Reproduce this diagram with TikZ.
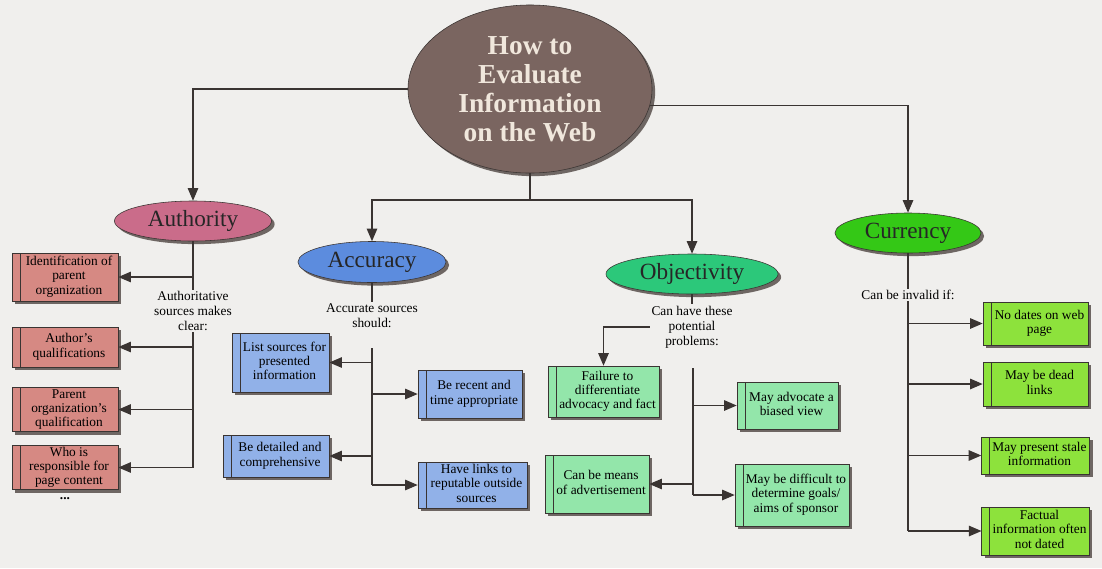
\documentclass[tikz,border=0pt]{standalone}
\usepackage{fontspec}
\setmainfont{Liberation Serif}
\usetikzlibrary{arrows.meta,shapes.geometric,shadows}
\definecolor{pagebg}{RGB}{240,239,237}
\definecolor{linecol}{RGB}{58,52,50}
\definecolor{shadowcol}{RGB}{96,88,84}
\definecolor{rootfill}{RGB}{122,101,96}
\definecolor{roottext}{RGB}{240,231,220}
\definecolor{authfill}{RGB}{202,108,138}
\definecolor{authbox}{RGB}{214,137,131}
\definecolor{accfill}{RGB}{92,140,222}
\definecolor{accbox}{RGB}{145,177,232}
\definecolor{objfill}{RGB}{44,200,122}
\definecolor{objbox}{RGB}{147,230,170}
\definecolor{curfill}{RGB}{52,200,22}
\definecolor{curbox}{RGB}{141,226,60}
\newcommand{\leaftext}[1]{\renewcommand{\arraystretch}{0.94}\hspace*{0.2cm}\begin{tabular}{@{}c@{}}#1\end{tabular}}
\tikzset{
  dropped/.style={drop shadow={shadow xshift=2.2pt,shadow yshift=-2.2pt,fill=shadowcol,opacity=0.9}},
  topic/.style={ellipse,draw=linecol,dropped,inner sep=0pt,text=black!85,font=\fontsize{16.5}{18}\selectfont},
  leaf/.style={rectangle,draw=linecol,dropped,inner xsep=2pt,inner ysep=0.5pt,
    font=\fontsize{9.5}{10.8}\selectfont,
    path picture={\draw[linecol] ([xshift=0.2cm]path picture bounding box.north west)
      -- ([xshift=0.2cm]path picture bounding box.south west);}},
  note/.style={fill=pagebg,align=center,inner sep=1pt,font=\fontsize{9.5}{10.8}\selectfont},
  link/.style={draw=linecol,line width=0.8pt},
  pointer/.style={link,-{Triangle[length=9pt,width=7.5pt]}},
}
\begin{document}
\begin{tikzpicture}[x=0.025cm,y=-0.025cm]
\path[use as bounding box,fill=pagebg] (0,0) rectangle (1102,568);

\node[ellipse,draw=linecol,dropped,fill=rootfill,text=roottext,minimum width=6.1cm,minimum height=4.2cm,
  inner sep=0pt,align=center,font=\bfseries\fontsize{19.5}{20.5}\selectfont] (root) at (530,89)
  {How to\\Evaluate\\Information\\on the Web};

\node[topic,fill=authfill,minimum width=3.925cm,minimum height=1cm] (authority) at (193,221) {Authority};
\node[topic,fill=accfill,minimum width=3.7cm,minimum height=1.025cm] (accuracy) at (372,262) {Accuracy};
\node[topic,fill=objfill,minimum width=4.3cm,minimum height=1cm] (objectivity) at (692,274) {Objectivity};
\node[topic,fill=curfill,minimum width=3.65cm,minimum height=1cm] (currency) at (908,233) {Currency};

\coordinate (split) at (530,200);
\draw[pointer] (root.west) -| (authority.north);
\draw[pointer] (root.-8) -| (currency.north);
\draw[link] (root.south) -- (split);
\draw[pointer] (split) -| (accuracy.north);
\draw[pointer] (split) -| (objectivity.north);

% Authority
\node[leaf,fill=authbox,minimum width=2.65cm,minimum height=1.2cm] (a1) at (65,277) {\leaftext{Identification of\\parent\\organization}};
\node[leaf,fill=authbox,minimum width=2.65cm,minimum height=1cm] (a2) at (65,347) {\leaftext{Author's\\qualifications}};
\node[leaf,fill=authbox,minimum width=2.65cm,minimum height=1.075cm] (a3) at (65,409.5) {\leaftext{Parent\\organization's\\qualification}};
\node[leaf,fill=authbox,minimum width=2.65cm,minimum height=1.075cm] (a4) at (65,467.5) {\leaftext{Who is\\responsible for\\page content}};
\node[font=\bfseries\fontsize{9.5}{10.8}\selectfont,inner sep=0pt] (adots) at (65,499) {...};
\draw[link] (authority.south) -- (authority.south |- a4.east);
\foreach \b in {a1,a2,a3,a4}
  \draw[pointer] (authority.south |- \b.east) -- (\b.east);
\node[note] (authnote) at (193,311) {Authoritative\\sources makes\\clear:};

% Accuracy
\node[note] (accnote) at (372,316) {Accurate sources\\should:};
\node[leaf,fill=accbox,minimum width=2.425cm,minimum height=1.475cm] (b1) at (280.5,362.5) {\leaftext{List sources for\\presented\\information}};
\node[leaf,fill=accbox,minimum width=2.6cm,minimum height=1.2cm] (b2) at (470,394) {\leaftext{Be recent and\\time appropriate}};
\node[leaf,fill=accbox,minimum width=2.65cm,minimum height=1.05cm] (b3) at (276,456) {\leaftext{Be detailed and\\comprehensive}};
\node[leaf,fill=accbox,minimum width=2.725cm,minimum height=1.15cm] (b4) at (472.5,485) {\leaftext{Have links to\\reputable outside\\sources}};
\coordinate (acctop) at (372,348);
\draw[link] (accuracy.south) -- (accnote.north);
\draw[link] (acctop) -- (acctop |- b4.west);
\foreach \b in {b1,b3}
  \draw[pointer] (acctop |- \b.east) -- (\b.east);
\foreach \b in {b2,b4}
  \draw[pointer] (acctop |- \b.west) -- (\b.west);

% Objectivity
\node[note] (objnote) at (692,327) {Can have these\\potential\\problems:};
\node[leaf,fill=objbox,minimum width=2.775cm,minimum height=1.275cm] (o1) at (603.5,391.5) {\leaftext{Failure to\\differentiate\\advocacy and fact}};
\node[leaf,fill=objbox,minimum width=2.525cm,minimum height=1.175cm] (o2) at (787.5,405.5) {\leaftext{May advocate a\\biased view}};
\node[leaf,fill=objbox,minimum width=2.6cm,minimum height=1.45cm] (o3) at (597,484) {\leaftext{Can be means\\of advertisement}};
\node[leaf,fill=objbox,minimum width=2.85cm,minimum height=1.55cm] (o4) at (792,495) {\leaftext{May be difficult to\\determine goals/\\aims of sponsor}};
\coordinate (objtop) at (693,368);
\draw[link] (objectivity.south) -- (objnote.north);
\draw[pointer] (objnote.west) -| (o1.north);
\draw[link] (objtop) -- (objtop |- o4.west);
\draw[pointer] (objtop |- o3.east) -- (o3.east);
\foreach \b in {o2,o4}
  \draw[pointer] (objtop |- \b.west) -- (\b.west);

% Currency
\node[leaf,fill=curbox,minimum width=2.625cm,minimum height=1.075cm] (c1) at (1035.5,323.5) {\leaftext{No dates on web\\page}};
\node[leaf,fill=curbox,minimum width=2.625cm,minimum height=1.1cm] (c2) at (1035.5,384) {\leaftext{May be dead\\links}};
\node[leaf,fill=curbox,minimum width=2.625cm,minimum height=0.925cm] (c3) at (1035.5,455.5) {\leaftext{May present stale\\information}};
\node[leaf,fill=curbox,minimum width=2.625cm,minimum height=1.2cm] (c4) at (1035.5,531) {\leaftext{Factual\\information often\\not dated}};
\draw[link] (currency.south) -- (currency.south |- c4.west);
\foreach \b in {c1,c2,c3,c4}
  \draw[pointer] (currency.south |- \b.west) -- (\b.west);
\node[note] (curnote) at (908,295) {Can be invalid if:};
\end{tikzpicture}
\end{document}
